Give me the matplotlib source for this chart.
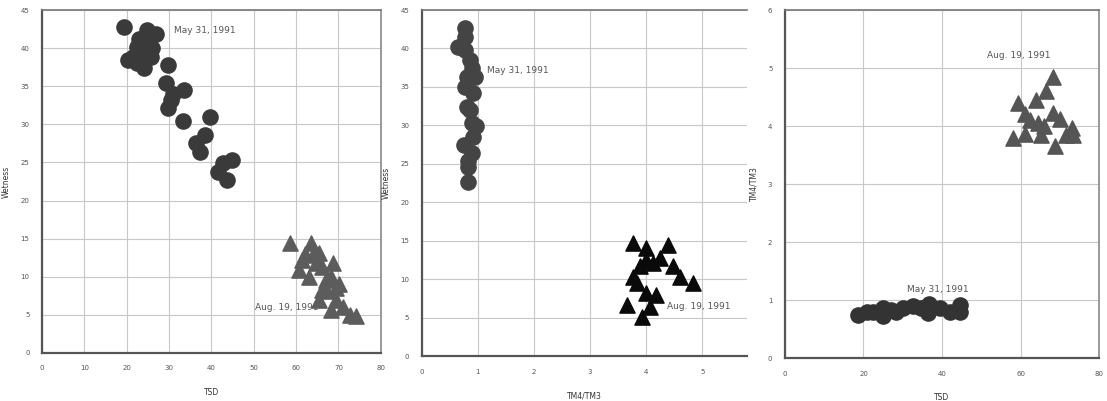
import matplotlib
matplotlib.use("Agg")
from matplotlib import pyplot as plt

# panel 1: TSD vs Wetness
may_tsd_1 = [19.3, 24.7, 26.9, 22.5, 20.2, 24.1, 25.7, 29.7, 29.3, 33.6, 30.5, 29.7,
             33.3, 39.6, 38.4, 36.4, 37.2, 41.6, 44.8, 43.6, 42.8, 23.3, 24.9, 21.5, 22.5,
             26.0, 31.0, 23.0]
may_wet_1 = [42.8, 42.4, 41.9, 40.2, 38.5, 37.4, 38.9, 37.8, 35.4, 34.5, 33.2, 32.1,
             30.4, 31.0, 28.6, 27.5, 26.4, 23.8, 25.3, 22.7, 24.9, 39.3, 40.6, 38.9, 38.0,
             40.0, 34.0, 41.2]
aug_tsd_1 = [58.6, 63.4, 65.4, 61.4, 60.6, 66.2, 68.6, 68.2, 70.2, 66.2, 65.4, 69.4,
             68.2, 71.1, 72.7, 74.1, 63.0, 64.6, 67.0, 67.4, 62.0, 64.0, 69.5]
aug_wet_1 = [14.4, 14.4, 13.1, 12.2, 10.9, 11.3, 11.8, 10.0, 9.1, 8.3, 7.0, 7.0,
             5.6, 6.0, 5.0, 4.8, 10.0, 11.8, 9.6, 8.1, 13.0, 12.8, 8.5]

# panel 2: TM4/TM3 vs Wetness
may_ratio_2 = [0.77, 0.77, 0.65, 0.86, 0.89, 0.77, 0.92, 0.80, 0.89, 0.92, 0.75, 0.89,
               0.83, 0.83, 0.95, 0.77, 0.97, 0.80, 0.86, 0.83]
may_wet_2 = [42.6, 41.5, 40.2, 38.5, 37.4, 35.0, 34.2, 32.4, 30.3, 28.5, 27.4, 26.4,
             24.6, 22.7, 36.3, 39.8, 29.9, 36.3, 32.0, 25.4]
aug_ratio_2 = [3.77, 4.00, 4.39, 4.12, 3.89, 4.48, 4.60, 4.83, 3.83, 4.00, 4.17, 3.65,
               4.07, 3.92, 4.00, 3.77, 4.24]
aug_wet_2 = [14.7, 14.0, 14.4, 12.1, 11.7, 11.7, 10.3, 9.5, 9.5, 8.2, 7.9, 6.6,
             6.4, 5.1, 12.5, 10.3, 12.8]

# panel 3: TSD vs TM4/TM3
may_tsd_3 = [18.7, 20.8, 25.0, 25.0, 28.4, 30.1, 32.6, 34.7, 36.4, 36.8, 39.4, 41.9,
             44.5, 44.5, 22.5, 27.1]
may_ratio_3 = [0.75, 0.80, 0.72, 0.86, 0.80, 0.86, 0.89, 0.86, 0.78, 0.94, 0.86, 0.80,
               0.92, 0.80, 0.80, 0.83]
aug_tsd_3 = [68.3, 59.4, 63.9, 66.4, 61.0, 68.3, 70.0, 73.0, 73.4, 58.1, 61.0, 65.2,
             68.7, 64.4, 71.6, 62.5, 66.0]
aug_ratio_3 = [4.85, 4.39, 4.45, 4.60, 4.20, 4.23, 4.12, 3.97, 3.85, 3.79, 3.87, 3.85,
               3.65, 4.06, 3.85, 4.10, 4.00]

TICK_FS = 5
LABEL_FS = 5.5
NOTE_FS = 6.5


def style_axes(ax, xlim, ylim, xticks, yticks, xlabel, ylabel, right_spine=True):
    ax.set_xlim(*xlim)
    ax.set_ylim(*ylim)
    ax.set_xticks(xticks)
    ax.set_yticks(yticks)
    ax.grid(True, color="#c8c8c8", linewidth=0.8)
    ax.set_axisbelow(True)
    ax.tick_params(labelsize=TICK_FS, colors="#555555", length=0, pad=9)
    ax.set_xlabel(xlabel, fontsize=LABEL_FS, color="#333333", labelpad=12)
    ax.set_ylabel(ylabel, fontsize=LABEL_FS, color="#333333", labelpad=7)
    for side in ["left", "bottom"]:
        ax.spines[side].set_color("#555555")
        ax.spines[side].set_linewidth(1.6)
    ax.spines["top"].set_color("#777777")
    ax.spines["top"].set_linewidth(1.2)
    if right_spine:
        ax.spines["right"].set_color("#888888")
        ax.spines["right"].set_linewidth(1.2)
    else:
        ax.spines["right"].set_visible(False)


fig = plt.figure(figsize=(11.07, 4.01), dpi=100)
ax1 = fig.add_axes([0.038, 0.120, 0.306, 0.855])
ax2 = fig.add_axes([0.381, 0.112, 0.294, 0.863])
ax3 = fig.add_axes([0.709, 0.107, 0.284, 0.868])

size = 120

# panel 1
style_axes(ax1, (0, 80), (0, 45), range(0, 81, 10), range(0, 46, 5), "TSD", "Wetness")
ax1.text(31.2, 42.3, "May 31, 1991", fontsize=NOTE_FS, color="#555555", va="center")
ax1.text(50.2, 6.0, "Aug. 19, 1991", fontsize=NOTE_FS, color="#555555", va="center")
ax1.scatter(may_tsd_1, may_wet_1, s=size, marker="o", color="#3a3a3a", zorder=3)
ax1.scatter(aug_tsd_1, aug_wet_1, s=size, marker="^", color="#5c5c5c", zorder=3)

# panel 2
style_axes(ax2, (0, 5.8), (0, 45), range(0, 6), range(0, 46, 5), "TM4/TM3", "Wetness",
           right_spine=False)
ax2.text(1.17, 37.1, "May 31, 1991", fontsize=NOTE_FS, color="#555555", va="center")
ax2.text(4.37, 6.4, "Aug. 19, 1991", fontsize=NOTE_FS, color="#555555", va="center")
ax2.scatter(may_ratio_2, may_wet_2, s=size, marker="o", color="#444444", zorder=3)
ax2.scatter(aug_ratio_2, aug_wet_2, s=size, marker="^", color="#0a0a0a", zorder=3)

# panel 3
style_axes(ax3, (0, 80), (0, 6), range(0, 81, 20), range(0, 7), "TSD", "TM4/TM3")
ax3.text(59.4, 5.22, "Aug. 19, 1991", fontsize=NOTE_FS, color="#555555",
         ha="center", va="center")
ax3.text(39.0, 1.19, "May 31, 1991", fontsize=NOTE_FS, color="#555555",
         ha="center", va="center")
ax3.scatter(may_tsd_3, may_ratio_3, s=size, marker="o", color="#333333", zorder=3)
ax3.scatter(aug_tsd_3, aug_ratio_3, s=size, marker="^", color="#555555", zorder=3)

fig.savefig("out.png", dpi=100)
